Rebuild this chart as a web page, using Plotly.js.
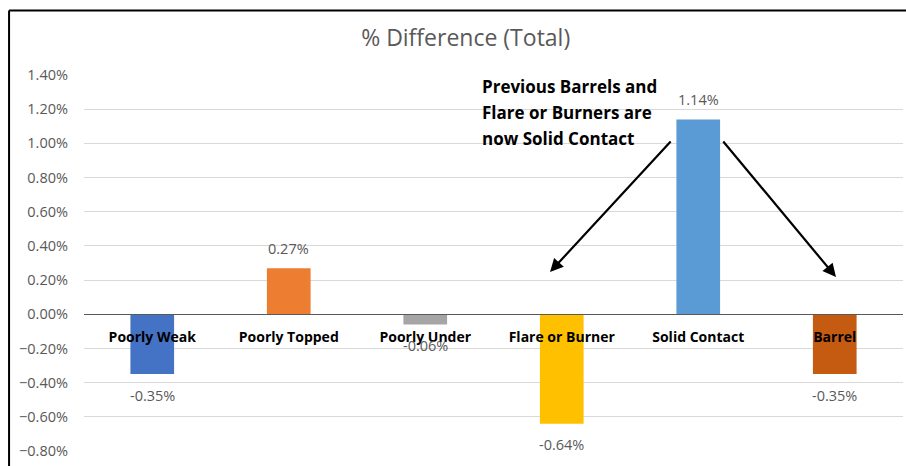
<!DOCTYPE html>
<html>
<head>
<meta charset="utf-8">
<script src="https://cdn.plot.ly/plotly-3.0.1.min.js"></script>
<style>
  html, body { margin: 0; padding: 0; background: #fff; }
  #chart { width: 906px; height: 466px; }
</style>
</head>
<body>
<div id="chart"></div>
<script>
const categories = ["Poorly Weak", "Poorly Topped", "Poorly Under", "Flare or Burner", "Solid Contact", "Barrel"];
const values = [-0.0035, 0.0027, -0.0006, -0.0064, 0.0114, -0.0035];
const barColors = ["#4472C4", "#ED7D31", "#A5A5A5", "#FFC000", "#5B9BD5", "#C55A11"];
const tickValues = [-0.008, -0.006, -0.004, -0.002, 0, 0.002, 0.004, 0.006, 0.008, 0.010, 0.012, 0.014];
const noteLines = ["Previous Barrels and", "Flare or Burners are", "now Solid Contact"];

const yMin = -0.008, yMax = 0.014;
const zeroPos = (0 - yMin) / (yMax - yMin);

const font = "'Open Sans', 'Liberation Sans', sans-serif";

const trace = {
  type: "bar",
  x: categories,
  y: values,
  marker: { color: barColors },
  width: 0.32,
  hoverinfo: "none"
};

const annotations = [];
// data labels
categories.forEach((c, i) => {
  const v = values[i];
  annotations.push({
    xref: "x", yref: "y", x: c, y: v,
    yanchor: "middle", xanchor: "center",
    yshift: v >= 0 ? 20 : -21,
    text: (v * 100).toFixed(2) + "%",
    showarrow: false,
    font: { family: font, size: 14.5, color: "#595959" }
  });
});
// note text
noteLines.forEach((line, i) => {
  annotations.push({
    xref: "x", yref: "y",
    x: 2.40, y: 0.0133,
    xanchor: "left", yanchor: "middle",
    yshift: -i * 26,
    text: "<b>" + line + "</b>",
    showarrow: false,
    align: "left",
    font: { family: font, size: 17, color: "#000" }
  });
});
// arrows
annotations.push({
  xref: "x", yref: "y", axref: "x", ayref: "y",
  x: 2.914, y: 0.00247, ax: 3.808, ay: 0.0102,
  showarrow: true, arrowhead: 2, arrowsize: 1.2, arrowwidth: 2.2, arrowcolor: "#000", text: ""
});
annotations.push({
  xref: "x", yref: "y", axref: "x", ayref: "y",
  x: 5.009, y: 0.00218, ax: 4.174, ay: 0.0102,
  showarrow: true, arrowhead: 2, arrowsize: 1.2, arrowwidth: 2.2, arrowcolor: "#000", text: ""
});

const layout = {
  width: 906, height: 466,
  margin: { l: 84, r: 3, t: 75, b: 15, pad: 0 },
  paper_bgcolor: "#fff", plot_bgcolor: "#fff",
  showlegend: false,
  title: {
    text: "% Difference (Total)",
    font: { family: font, size: 23, color: "#595959" },
    xref: "container", x: 0.514, xanchor: "center",
    yref: "container", y: 0.918, yanchor: "middle"
  },
  xaxis: {
    type: "category",
    anchor: "free",
    position: zeroPos,
    showline: true,
    linecolor: "#595959",
    linewidth: 1,
    ticks: "",
    showgrid: false,
    zeroline: false,
    ticklabelstandoff: 10,
    tickfont: { family: font, size: 14, color: "#000", weight: "bold" },
    fixedrange: true
  },
  yaxis: {
    range: [yMin, yMax],
    tickvals: tickValues,
    tickformat: ".2%",
    showgrid: true,
    gridcolor: "#D9D9D9",
    gridwidth: 1,
    zeroline: false,
    showline: false,
    ticks: "",
    ticklabelstandoff: 15,
    tickfont: { family: font, size: 14.5, color: "#595959" },
    fixedrange: true
  },
  annotations: annotations,
  shapes: [
    { type: "line", xref: "paper", yref: "paper", x0: -0.0915, x1: 1.2, y0: 1.1715, y1: 1.1715, line: { color: "#000", width: 2 } },
    { type: "line", xref: "paper", yref: "paper", x0: -0.0915, x1: -0.0915, y0: 1.1715, y1: -0.2, line: { color: "#000", width: 2 } }
  ],
  bargap: 0.68
};

Plotly.newPlot("chart", [trace], layout, { staticPlot: true, displayModeBar: false });
</script>
</body>
</html>
